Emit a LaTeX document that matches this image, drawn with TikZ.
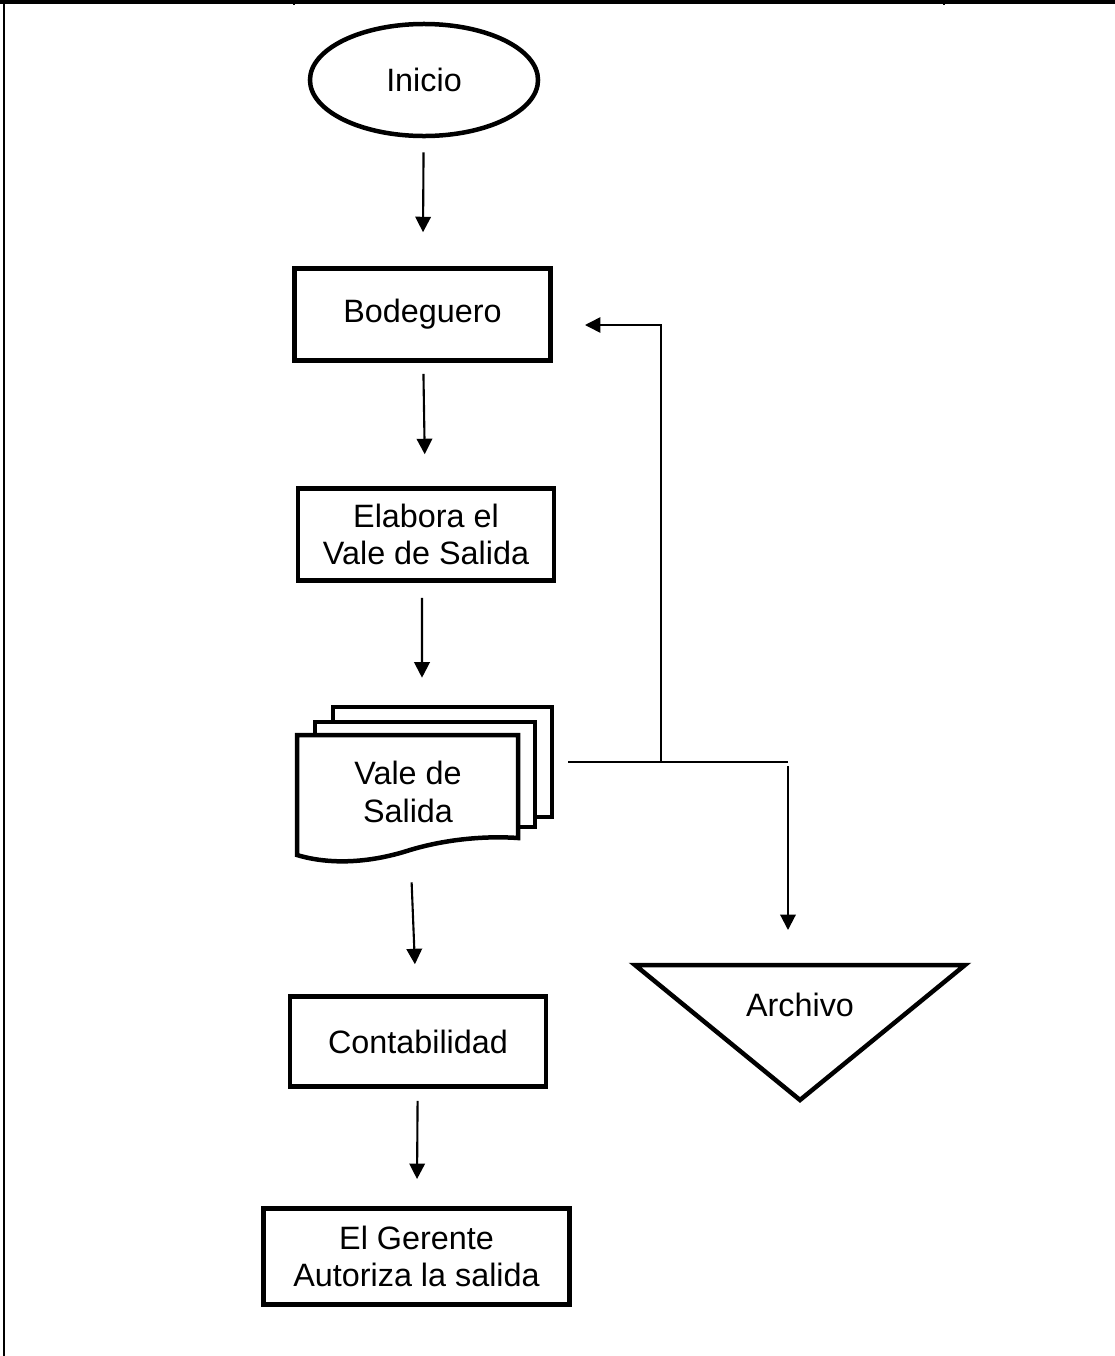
\documentclass[tikz,border=0pt]{standalone}
\usepackage{fontspec}
\setmainfont{Liberation Sans}
\usetikzlibrary{arrows.meta,shapes.geometric}

\tikzset{
  texto/.style={font=\fontsize{23}{26.5}\selectfont, align=center},
  caja/.style={texto, draw, line width=3.2pt, inner sep=0pt},
  terminal/.style={texto, draw, ellipse, line width=3.2pt, inner sep=0pt},
  hoja/.style={draw, line width=3.2pt, fill=white},
  flecha/.style={-{Triangle[length=11pt,width=11pt]}, line width=1.5pt},
  linea/.style={line width=1.1pt},
}

\begin{document}
\begin{tikzpicture}[x=0.025cm, y=-0.025cm]
  \useasboundingbox (0,0) rectangle (1115,1356);
  % marco de la tabla
  \draw[line width=2.4pt] (0,2) -- (1115,2);
  \draw[line width=1.4pt] (4,0) -- (4,1356);
  \draw[line width=1pt] (294,0) -- (294,5);
  \draw[line width=1pt] (944,0) -- (944,5);

  % nodos
  \node[terminal, minimum width=5.7cm, minimum height=2.8cm] (inicio) at (424,80) {Inicio};
  \node[caja, minimum width=6.4cm, minimum height=2.3cm] (bodeguero) at (422.5,314.5) {Bodeguero};
  \node[caja, minimum width=6.4cm, minimum height=2.3cm] (elabora) at (426,534.5) {Elabora el\\Vale de Salida};

  % documento multiple
  \draw[hoja] (333,707) rectangle (552,817);
  \draw[hoja] (315,722) rectangle (535,827);
  \draw[hoja] (297,855) -- (297,735) -- (518,735) -- (518,838)
    .. controls (490,836) and (450,838) .. (410,850)
    .. controls (370,863) and (330,865) .. (297,855) -- cycle;
  \node[texto, minimum width=5.5cm, minimum height=2.8cm] (vale) at (408,792) {Vale de\\Salida};

  \node[caja, minimum width=6.4cm, minimum height=2.25cm] (contabilidad) at (418,1041.5) {Contabilidad};
  \node[caja, minimum width=7.65cm, minimum height=2.4cm] (gerente) at (416.5,1256.5) {El Gerente\\Autoriza la salida};

  % archivo
  \draw[line width=3.2pt, line join=miter] (635,965) -- (965,965) -- (800,1100) -- cycle;
  \node[texto] (archivo) at (800,1005) {Archivo};

  % conectores
  \draw[flecha, shorten <=0.35cm, shorten >=0.85cm] (inicio) -- (bodeguero);
  \draw[flecha, shorten <=0.28cm, shorten >=0.8cm] (bodeguero) -- (elabora);
  \draw[flecha, shorten <=0.38cm, shorten >=1.45cm] ([xshift=-0.1cm]elabora.south) -- ([xshift=0.35cm]vale.north);
  \draw[flecha, shorten <=0.85cm, shorten >=0.75cm] (vale) -- (contabilidad);
  \draw[flecha, shorten <=0.3cm, shorten >=0.68cm] (contabilidad) -- (gerente);

  \coordinate (salida) at (568,762);
  \coordinate (cruce) at (661,762);
  \coordinate (bifurca) at (788,762);
  \coordinate (retorno) at (585,325);
  \coordinate (tope) at (788,930);
  \draw[linea] (salida) -- (bifurca);
  \draw[linea, -{Triangle[length=11pt,width=11pt]}] (cruce) |- (retorno);
  \draw[flecha] ([yshift=-0.1cm]bifurca) -- (tope);
\end{tikzpicture}
\end{document}
